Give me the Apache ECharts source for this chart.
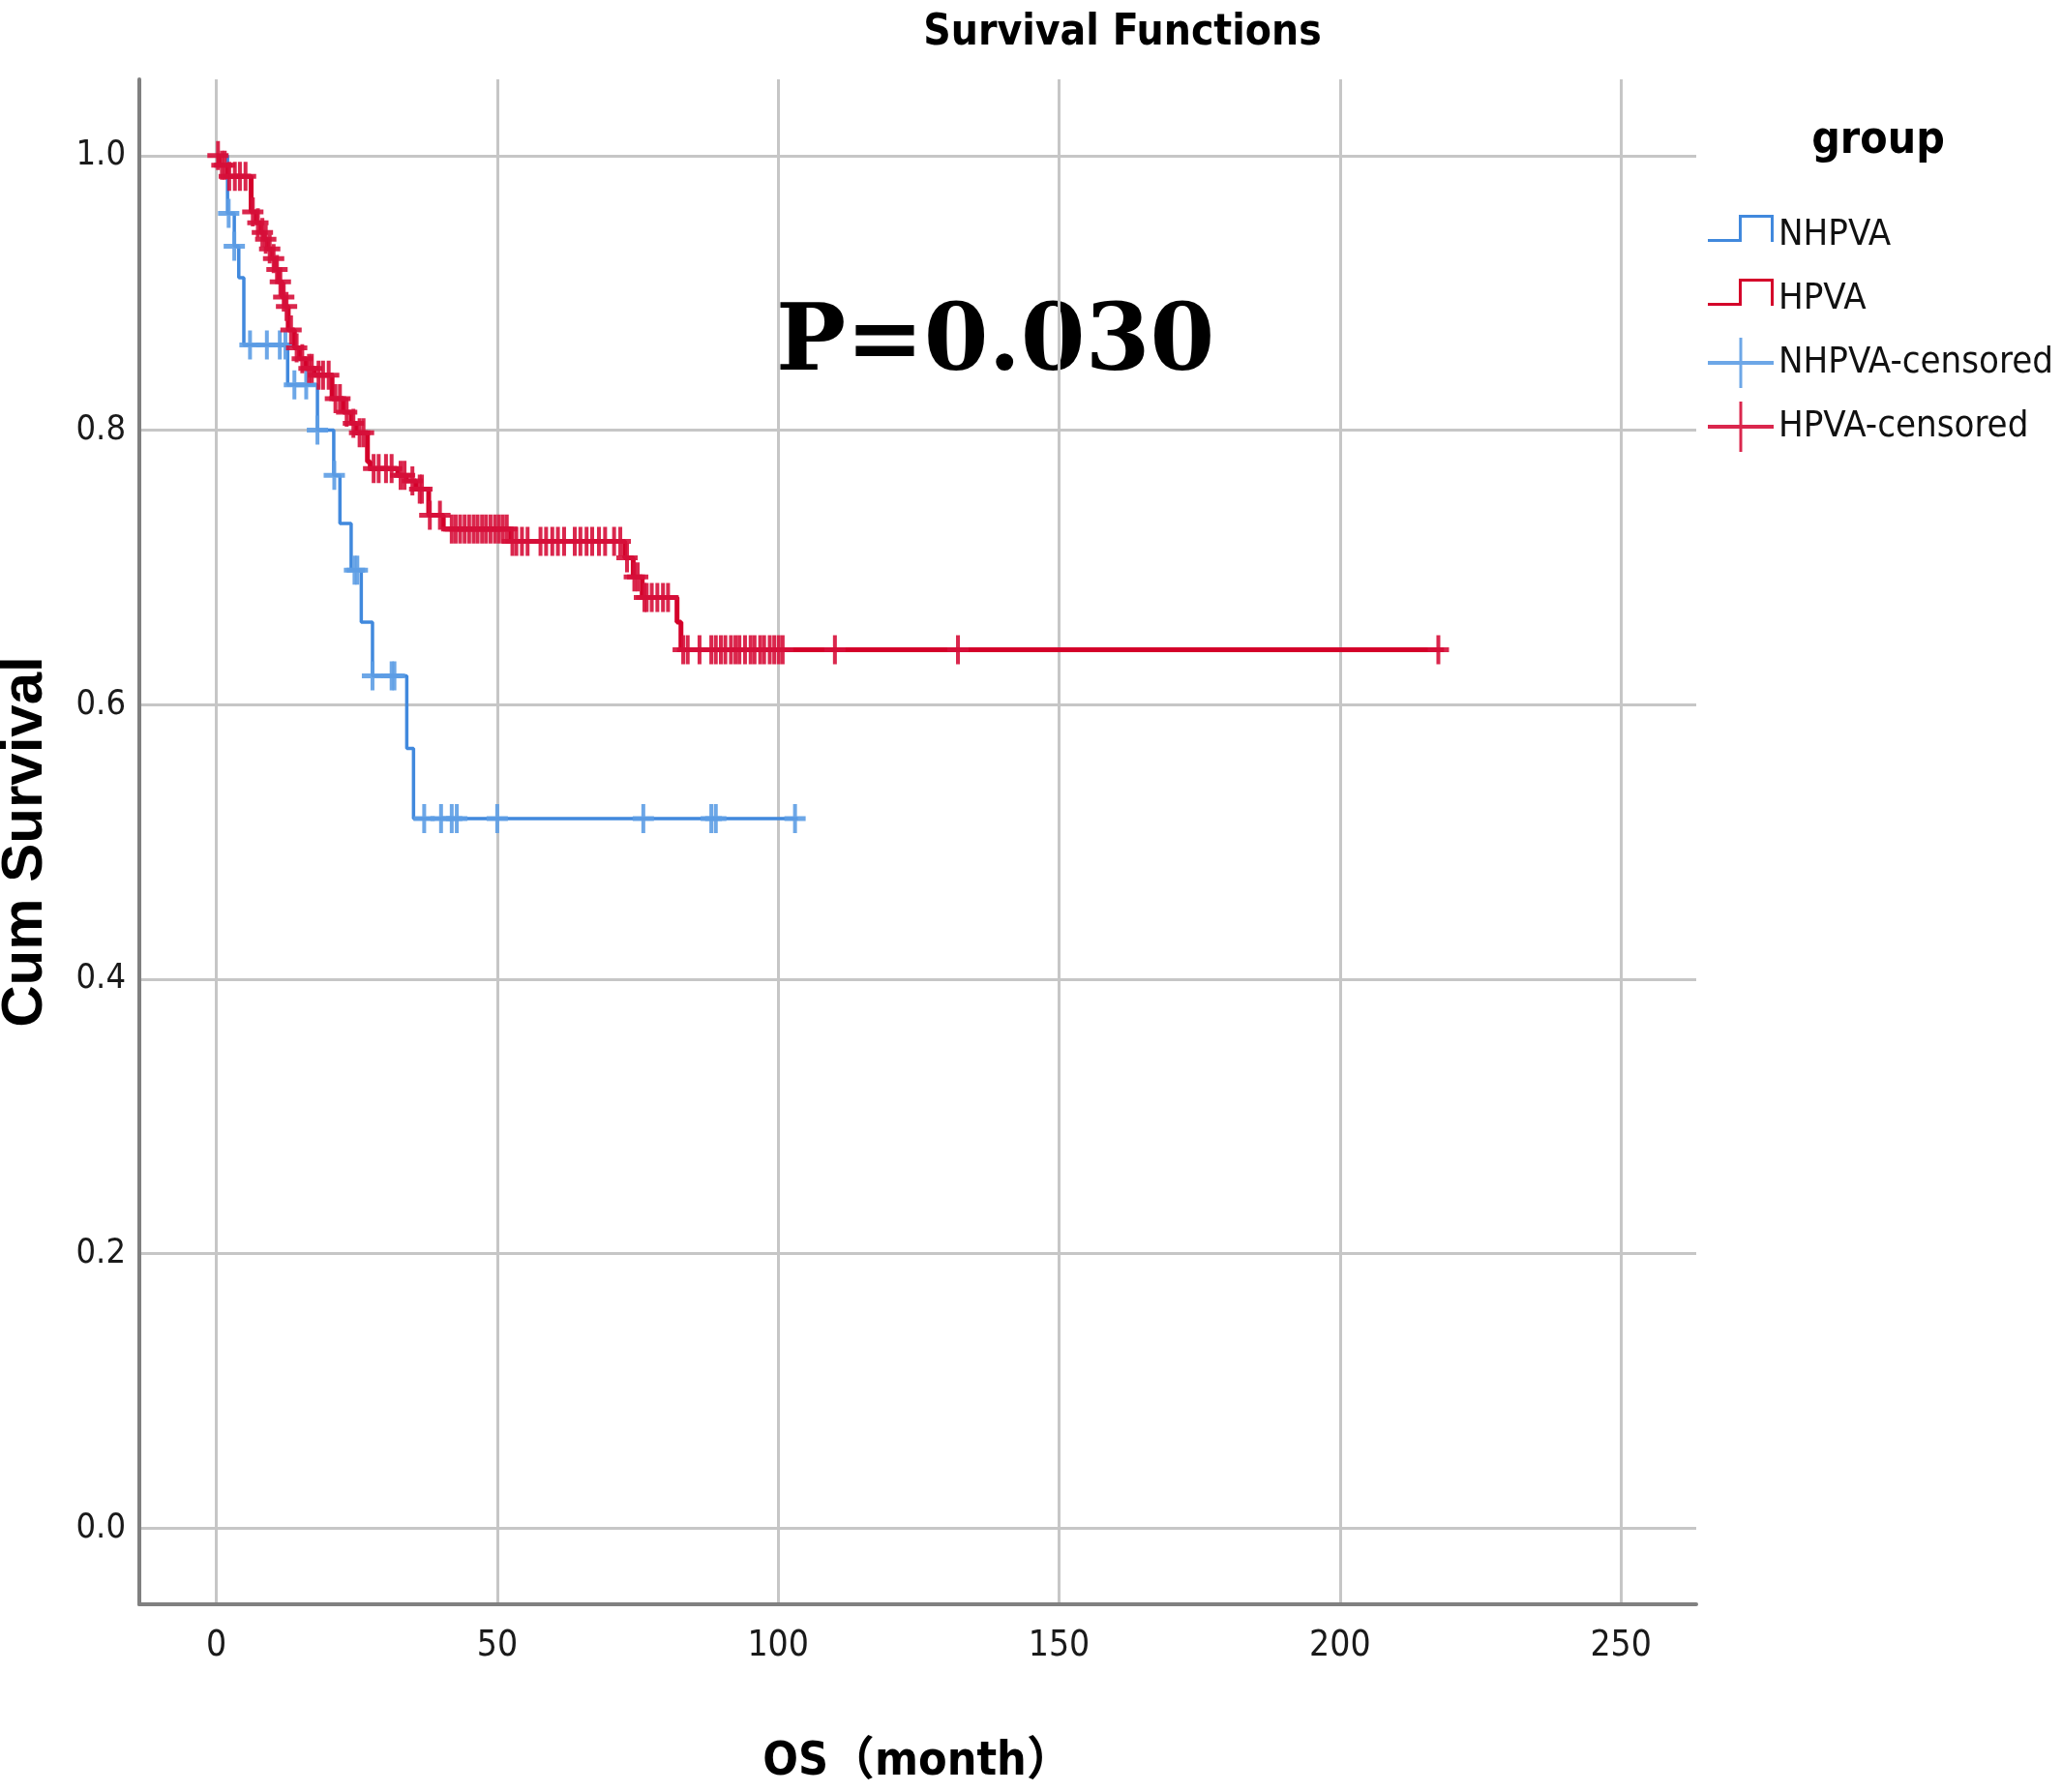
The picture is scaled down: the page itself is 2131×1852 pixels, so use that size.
<!DOCTYPE html>
<html>
<head>
<meta charset="utf-8">
<title>Survival Functions</title>
<script src="https://cdn.jsdelivr.net/npm/echarts@6.0.0/dist/echarts.min.js"></script>
<style>
  html, body { margin: 0; padding: 0; background: #fff; }
  #km { width: 2131px; height: 1852px; }
</style>
</head>
<body>
<div id="km"></div>
<script>
// step points: time (months) and survival after the drop
const nhpvaTimes = [0, 2.0, 3.2, 4.0, 4.9, 12.7, 18.0, 20.9, 22.0, 24.0, 25.8, 27.8, 33.9, 35.1, 103.5];
const nhpvaSurv  = [1.0, 0.958, 0.934, 0.911, 0.862, 0.833, 0.800, 0.767, 0.732, 0.698, 0.660, 0.621, 0.568, 0.517, 0.517];

const hpvaTimes = [0, 0.5, 2.0, 6.2, 7.1, 7.9, 8.5, 9.1, 9.9, 10.5, 11.1, 11.7, 12.2, 12.8, 13.9, 14.8, 16.0, 17.4,
                   20.6, 22.6, 24.0, 24.9, 26.9, 27.4, 32.3, 33.8, 35.5, 37.8, 40.4, 52.4, 72.7, 74.2, 75.8, 82.0, 82.7, 218.5];
const hpvaSurv  = [1.0, 0.993, 0.985, 0.959, 0.951, 0.944, 0.939, 0.932, 0.925, 0.917, 0.908, 0.897, 0.890, 0.873, 0.860, 0.852, 0.845, 0.840,
                   0.823, 0.813, 0.805, 0.798, 0.777, 0.772, 0.767, 0.763, 0.757, 0.738, 0.728, 0.719, 0.707, 0.693, 0.678, 0.660, 0.640, 0.640];

// censored times
const nhpvaCensored = [2.2, 3.2, 6.0, 9.0, 11.3, 12.3, 13.9, 16.0, 18.0, 21.0, 24.6, 25.1, 27.8, 31.2, 31.7,
                       37.0, 40.0, 41.9, 42.8, 50.0, 76.0, 88.1, 88.9, 103.0];
const hpvaCensored = [0.3, 1.0, 1.5, 2.3, 3.3, 4.2, 5.2, 6.5, 7.4, 8.2, 8.8, 9.5, 10.2, 10.8, 11.4, 12.0, 12.5, 13.3,
                      14.3, 15.3, 16.5, 17.0, 18.2, 19.0, 20.0, 21.2, 22.0, 23.2, 24.4, 25.5, 26.2, 28.0, 28.9, 30.2,
                      31.2, 32.8, 33.5, 34.9, 36.2, 36.6, 38.0, 39.8,
                      41.9, 42.6, 43.4, 44.2, 45.0, 45.8, 46.5, 47.3, 48.0, 48.8, 49.6, 50.3, 51.0, 51.7,
                      52.7, 53.4, 54.4, 55.4, 57.7, 58.7, 59.8, 60.8, 61.9, 63.8, 64.8, 65.9, 66.9, 68.1, 69.2, 70.8, 71.9,
                      73.1, 74.4, 75.0, 76.2, 76.6, 77.5, 78.5, 79.5, 80.4,
                      83.1, 83.9, 86.0, 88.1, 88.9, 89.8, 90.6, 91.6, 92.4, 93.1, 94.1, 95.1, 95.8, 96.8, 97.5, 98.5,
                      99.3, 100.1, 100.8, 110.1, 132.0, 217.5];

const groupNames = ['NHPVA', 'HPVA', 'NHPVA-censored', 'HPVA-censored'];

document.addEventListener("DOMContentLoaded", function() {
    const BLUE = '#4189dd';
    const BLUE_CENS = '#5d9de4';
    const RED = '#d4002a';
    const RED_CENS = '#d60f3a';
    const NARROW = '"Liberation Sans Narrow", "DejaVu Sans Condensed", "Noto Sans CJK SC", sans-serif';

    // survival level of a step curve at time t
    function levelAt(times, surv, t) {
        let s = surv[0];
        for (let i = 0; i < times.length; i++) {
            if (times[i] <= t) s = surv[i];
        }
        return s;
    }

    const nhpvaLine = nhpvaTimes.map((t, i) => [t, nhpvaSurv[i]]);
    const hpvaLine = hpvaTimes.map((t, i) => [t, hpvaSurv[i]]);
    const nhpvaCens = nhpvaCensored.map(t => [t, levelAt(nhpvaTimes, nhpvaSurv, t)]);
    const hpvaCens = hpvaCensored.map(t => [t, levelAt(hpvaTimes, hpvaSurv, t)]);

    const plusMark = 'path://M9,0h4v30h-4z M0,12.5h22v5h-22z';
    const stepIcon = 'path://M0,0h0.1v0.1h-0.1z M0,30h35v3h-35z M32,5h3v28h-3z M32,5h36v3h-36z M65,5h3v28h-3z M67.9,51.9h0.1v0.1h-0.1z';
    const censIcon = 'path://M0,24h68v4h-68z M32.5,0h3v52h-3z';

    const dom = document.getElementById('km');
    const myChart = echarts.init(dom);

    const option = {
        animation: false,
        backgroundColor: '#fff',
        title: {
            text: 'Survival Functions',
            left: 1155,
            top: 8,
            textAlign: 'center',
            textStyle: { fontFamily: NARROW, fontWeight: 'bold', fontSize: 44, color: '#000' }
        },
        grid: { left: 144, right: 378, top: 82, bottom: 194, containLabel: false, outerBoundsMode: 'none' },
        legend: {
            orient: 'vertical',
            left: 1760,
            top: 212,
            itemWidth: 68,
            itemHeight: 52,
            itemGap: 14,
            selectedMode: false,
            textStyle: { fontFamily: NARROW, fontSize: 38, color: '#111' },
            data: [
                { name: groupNames[0], icon: stepIcon },
                { name: groupNames[1], icon: stepIcon },
                { name: groupNames[2], icon: censIcon },
                { name: groupNames[3], icon: censIcon }
            ]
        },
        xAxis: {
            type: 'value',
            min: -13.7,
            max: 263.4,
            name: 'OS（month）',
            nameLocation: 'middle',
            nameGap: 140,
            nameTextStyle: { fontFamily: NARROW, fontWeight: 'bold', fontSize: 48, color: '#000' },
            axisLine: { show: true, onZero: false, lineStyle: { color: '#808080', width: 4 } },
            axisTick: { show: false },
            axisLabel: {
                margin: 25,
                fontFamily: NARROW,
                fontSize: 37,
                color: '#1a1a1a',
                formatter: v => (Math.abs(v / 50 - Math.round(v / 50)) < 1e-6 ? String(Math.round(v)) : '')
            },
            splitLine: { show: true, showMinLine: false, showMaxLine: false, lineStyle: { color: '#c6c6c6', width: 3 } }
        },
        yAxis: {
            type: 'value',
            min: -0.0556,
            max: 1.0556,
            name: 'Cum Survival',
            nameLocation: 'middle',
            nameRotate: 90,
            nameGap: 88,
            nameTextStyle: { fontFamily: 'Liberation Sans, Arial, sans-serif', fontWeight: 'bold', fontSize: 60, color: '#000' },
            axisLine: { show: true, onZero: false, lineStyle: { color: '#808080', width: 4 } },
            axisTick: { show: false },
            axisLabel: {
                margin: 14,
                fontFamily: NARROW,
                fontSize: 36,
                color: '#1a1a1a',
                formatter: v => (Math.abs(v * 5 - Math.round(v * 5)) < 1e-6 ? v.toFixed(1) : '')
            },
            splitLine: { show: true, showMinLine: false, showMaxLine: false, lineStyle: { color: '#c6c6c6', width: 3 } }
        },
        graphic: [
            {
                type: 'text',
                x: 802,
                y: 357,
                style: { text: 'P=0.030', font: 'bold 96px "DejaVu Serif", serif', fill: '#000', align: 'left', verticalAlign: 'middle' }
            },
            {
                type: 'text',
                x: 1941,
                y: 146,
                style: { text: 'group', font: 'bold 46px ' + NARROW, fill: '#000', align: 'center', verticalAlign: 'middle' }
            }
        ],
        series: [
            {
                name: groupNames[0],
                type: 'line',
                step: 'end',
                showSymbol: false,
                data: nhpvaLine,
                itemStyle: { color: BLUE },
                lineStyle: { color: BLUE, width: 3.5 },
                z: 2
            },
            {
                name: groupNames[2],
                type: 'scatter',
                symbol: plusMark,
                symbolSize: [22, 30],
                data: nhpvaCens,
                itemStyle: { color: BLUE_CENS, opacity: 0.9 },
                z: 3
            },
            {
                name: groupNames[1],
                type: 'line',
                step: 'end',
                showSymbol: false,
                data: hpvaLine,
                itemStyle: { color: RED },
                lineStyle: { color: RED, width: 5 },
                z: 4
            },
            {
                name: groupNames[3],
                type: 'scatter',
                symbol: plusMark,
                symbolSize: [22, 30],
                data: hpvaCens,
                itemStyle: { color: RED_CENS, opacity: 0.9 },
                z: 5
            }
        ]
    };

    myChart.setOption(option);

    window.addEventListener('resize', () => myChart.resize());
});
</script>
</body>
</html>
